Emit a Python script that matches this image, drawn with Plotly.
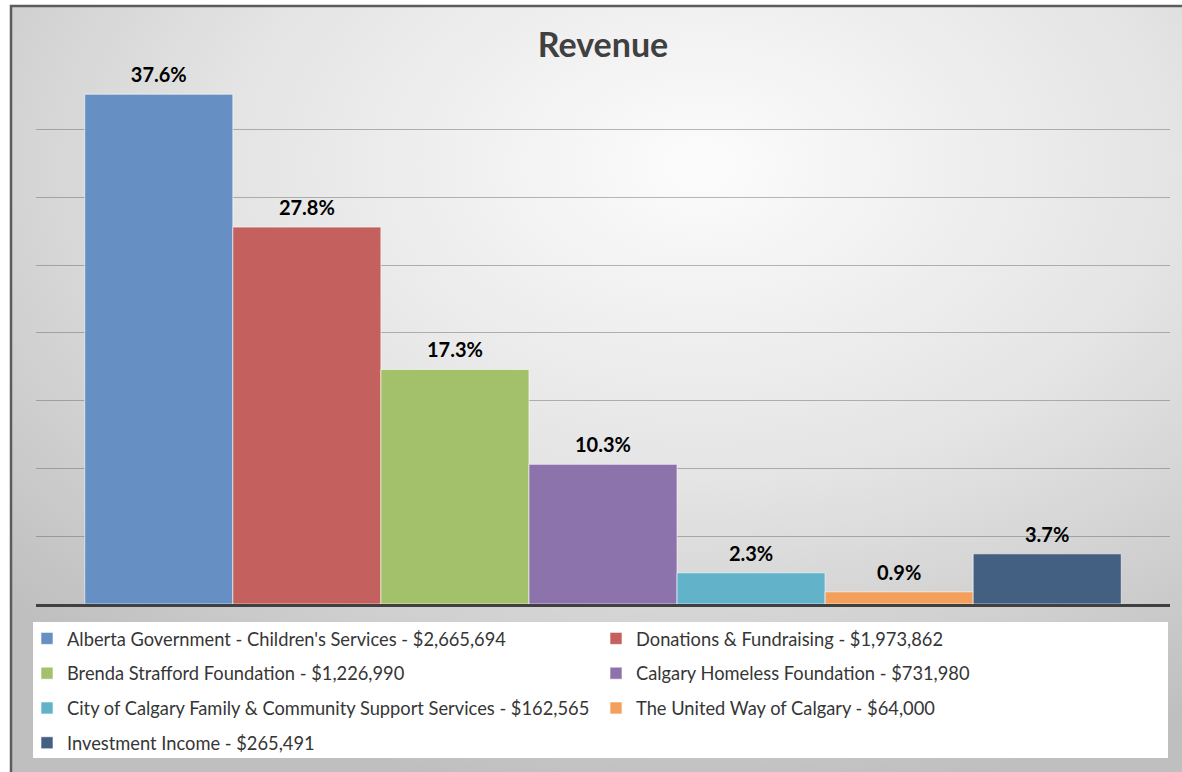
import base64
import plotly.graph_objects as go

# ---- data ----
sources = [
    "Alberta Government - Children's Services",
    "Donations & Fundraising",
    "Brenda Strafford Foundation",
    "Calgary Homeless Foundation",
    "City of Calgary Family & Community Support Services",
    "The United Way of Calgary",
    "Investment Income",
]
amounts = ["$2,665,694", "$1,973,862", "$1,226,990", "$731,980",
           "$162,565", "$64,000", "$265,491"]
percents = [37.6, 27.8, 17.3, 10.3, 2.3, 0.9, 3.7]
colors = ["#6690C4", "#C4615F", "#A3C06B", "#8D73AB",
          "#62B3CA", "#F4A05C", "#435F82"]
legend_of = ["legend", "legend2", "legend", "legend2", "legend", "legend2", "legend"]

W, H = 1182, 782
L, R = 36, 12
T = 61
B = H - 604
pw, ph = W - L - R, H - T - B


def px2x(p):
    return (p - L) / pw


def py2y(p):
    return (H - B - p) / ph


svg = (
    "<svg xmlns='http://www.w3.org/2000/svg' width='1200' height='800' "
    "viewBox='0 0 1200 800' preserveAspectRatio='none'>"
    "<defs><radialGradient id='g' cx='0.58' cy='0.2' r='0.8'>"
    "<stop offset='0' stop-color='#fcfcfc'/>"
    "<stop offset='0.5' stop-color='#e4e4e4'/>"
    "<stop offset='1' stop-color='#bfbfbf'/></radialGradient></defs>"
    "<rect width='1200' height='800' fill='url(#g)'/></svg>"
)
svg_uri = "data:image/svg+xml;base64," + base64.b64encode(svg.encode()).decode()

fig = go.Figure()
for i, (s, a, p, c, lg) in enumerate(zip(sources, amounts, percents, colors, legend_of)):
    fig.add_trace(go.Bar(
        x=["Revenue"], y=[p],
        name=f"{s} - {a}",
        marker=dict(color=c, line=dict(color="rgba(255,255,255,0.6)", width=1)),
        offsetgroup=f"o{i}",
        legend=lg, legendgroup=f"g{i}",
        hoverinfo="skip",
    ))
for i, p in enumerate(percents):
    fig.add_trace(go.Scatter(
        x=["Revenue"], y=[p], mode="markers+text",
        text=[f"<b>{p:.1f}%</b>"], textposition="top center",
        textfont=dict(family="Lato", size=20, color="#000000"),
        marker=dict(size=10, opacity=0),
        offsetgroup=f"o{i}", cliponaxis=False, showlegend=False, hoverinfo="skip",
    ))

legend_common = dict(
    orientation="v", bgcolor="rgba(0,0,0,0)",
    font=dict(family="Lato", size=18.3, color="#363636"),
    tracegroupgap=8, yanchor="top", xanchor="left",
)

fig.update_layout(
    width=W, height=H,
    margin=dict(l=L, r=R, t=T, b=B),
    paper_bgcolor="white", plot_bgcolor="rgba(0,0,0,0)",
    barmode="group", bargap=0.086, bargroupgap=0,
    scattermode="group", scattergap=0.086,
    title=dict(text="<b>Revenue</b>", x=603 / W, xanchor="center",
               y=1 - 45 / H, yanchor="middle",
               font=dict(family="Lato", size=34, color="#404040")),
    xaxis=dict(showticklabels=False, showgrid=False, showline=True,
               linecolor="#404040", linewidth=3, ticks="", fixedrange=True),
    yaxis=dict(range=[0, 40.05], dtick=5, showticklabels=False,
               gridcolor="rgba(100,100,100,0.45)", gridwidth=1,
               zeroline=False, ticks="", fixedrange=True),
    legend=dict(x=px2x(27), y=py2y(620), **legend_common),
    legend2=dict(x=px2x(596), y=py2y(620), **legend_common),
    images=[dict(source=svg_uri, xref="paper", yref="paper",
                 x=px2x(11), y=py2y(6), sizex=(1200 - 11) / pw, sizey=(800 - 6) / ph,
                 xanchor="left", yanchor="top", sizing="stretch", layer="below")],
    shapes=[
        dict(type="rect", xref="paper", yref="paper",
             x0=px2x(11), x1=px2x(1195), y0=py2y(800), y1=py2y(6),
             line=dict(color="#5c5c5c", width=2.5), fillcolor="rgba(0,0,0,0)", layer="below"),
        dict(type="rect", xref="paper", yref="paper",
             x0=px2x(33), x1=px2x(1168), y0=py2y(758), y1=py2y(622),
             line=dict(width=0), fillcolor="white", layer="below"),
    ],
    showlegend=True,
)

fig.write_html("out.html", config={"displayModeBar": False},
               post_script="document.body.style.margin='0';")
